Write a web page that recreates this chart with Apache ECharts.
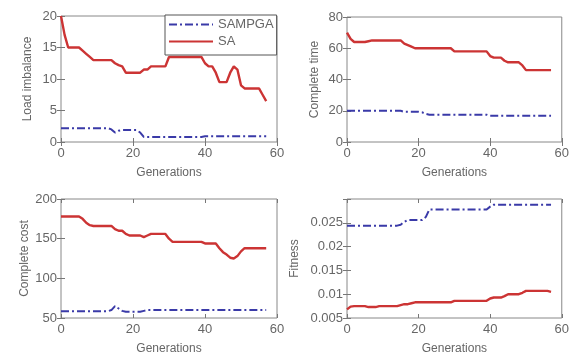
<!DOCTYPE html>
<html>
<head>
<meta charset="utf-8">
<script src="https://cdn.jsdelivr.net/npm/echarts@6/dist/echarts.min.js"></script>
<style>
  html, body { margin: 0; padding: 0; background: #fff; }
  #main { width: 572px; height: 356px; }
</style>
</head>
<body>
<div id="main"></div>
<script>
// generations 0..57
const gens = [0,1,2,3,4,5,6,7,8,9,10,11,12,13,14,15,16,17,18,19,20,21,22,23,24,25,26,27,28,29,
  30,31,32,33,34,35,36,37,38,39,40,41,42,43,44,45,46,47,48,49,50,51,52,53,54,55,56,57]

const loadSA = [20,17,15,15,15,15,14.5,14,13.5,13,
  13,13,13,13,13,12.5,12.2,12,11,11,
  11,11,11,11.5,11.5,12,12,12,12,12,
  13.5,13.5,13.5,13.5,13.5,13.5,13.5,13.5,13.5,13.5,
  12.5,12,12,11,9.5,9.5,9.5,11,12,11.5,
  9,8.5,8.5,8.5,8.5,8.5,7.5,6.5]
const loadSAMPGA = [2.2,2.2,2.2,2.2,2.2,2.2,2.2,2.2,2.2,2.2,
  2.2,2.2,2.2,2.2,2.0,1.5,1.8,1.9,1.9,1.9,
  1.9,1.9,1.5,0.8,0.8,0.8,0.8,0.8,0.8,0.8,
  0.8,0.8,0.8,0.8,0.8,0.8,0.8,0.8,0.8,0.8,
  0.9,0.9,0.9,0.9,0.9,0.9,0.9,0.9,0.9,0.9,
  0.9,0.9,0.9,0.9,0.9,0.9,0.9,0.9]

const timeSA = [70,66,64,64,64,64,64.5,65,65,65,
  65,65,65,65,65,65,63,62,61,60,
  60,60,60,60,60,60,60,60,60,60,
  58,58,58,58,58,58,58,58,58,58,
  55,54,54,54,52,51,51,51,51,49,
  46,46,46,46,46,46,46,46]
const timeSAMPGA = [20,20,20,20,20,20,20,20,20,20,
  20,20,20,20,20,20,19.3,19.3,19.3,19.3,
  19.3,19,18,17.5,17.5,17.5,17.5,17.5,17.5,17.5,
  17.5,17.5,17.5,17.5,17.5,17.5,17.5,17.5,17.5,17.5,
  16.8,16.8,16.8,16.8,16.8,16.8,16.8,16.8,16.8,16.8,
  16.8,16.8,16.8,16.8,16.8,16.8,16.8,16.8]

const costSA = [178,178,178,178,178,178,175,170,167,166,
  166,166,166,166,166,162,160,160,156,154,
  154,154,154,152,154,156,156,156,156,156,
  150,146,146,146,146,146,146,146,146,146,
  144,144,144,144,138,133,130,126,125,128,
  134,138,138,138,138,138,138,138]
const costSAMPGA = [58.5,58.5,58.5,58.5,58.5,58.5,58.5,58.5,58.5,58.5,
  58.5,58.5,58.5,58.5,60,65,62,59,58,58,
  58,58,58,59,60,60,60,60,60,60,
  60,60,60,60,60,60,60,60,60,60,
  60,60,60,60,60,60,60,60,60,60,
  60,60,60,60,60,60,60,60]

const fitSA = [0.0068,0.0074,0.0075,0.0075,0.0075,0.0075,0.0073,0.0073,0.0073,0.0075,
  0.0075,0.0075,0.0075,0.0075,0.0075,0.0077,0.0079,0.0079,0.0081,0.0083,
  0.0083,0.0083,0.0083,0.0083,0.0083,0.0083,0.0083,0.0083,0.0083,0.0083,
  0.0086,0.0086,0.0086,0.0086,0.0086,0.0086,0.0086,0.0086,0.0086,0.0086,
  0.0091,0.0093,0.0093,0.0093,0.0096,0.0100,0.0100,0.0100,0.0100,0.0103,
  0.0107,0.0107,0.0107,0.0107,0.0107,0.0107,0.0107,0.0105]
const fitSAMPGA = [0.0244,0.0244,0.0244,0.0244,0.0244,0.0244,0.0244,0.0244,0.0244,0.0244,
  0.0244,0.0244,0.0244,0.0244,0.0244,0.0246,0.0252,0.0256,0.0256,0.0256,
  0.0256,0.0256,0.0262,0.0278,0.0278,0.0278,0.0278,0.0278,0.0278,0.0278,
  0.0278,0.0278,0.0278,0.0278,0.0278,0.0278,0.0278,0.0278,0.0278,0.0278,
  0.0284,0.0288,0.0288,0.0288,0.0288,0.0288,0.0288,0.0288,0.0288,0.0288,
  0.0288,0.0288,0.0288,0.0288,0.0288,0.0288,0.0288,0.0288]

const xTicks = [0, 20, 40, 60]

const BLUE = '#3a3aa8'
const RED = '#cc3434'
const GRAY = '#666'
const FONT = 'Liberation Sans'

const chart = echarts.init(document.getElementById('main'))

// panels: grid box, y axis settings, data
const panels = [
  { grid: { left: 61, top: 16, width: 216, height: 126 }, name: 'Load imbalance', min: 0, max: 20, step: 5, gap: 27, sa: loadSA, ga: loadSAMPGA },
  { grid: { left: 347, top: 17, width: 217, height: 125 }, name: 'Complete time', min: 0, max: 80, step: 20, gap: 26, sa: timeSA, ga: timeSAMPGA },
  { grid: { left: 61, top: 199, width: 216, height: 124 }, name: 'Complete cost', min: 50, max: 200, step: 50, gap: 30, sa: costSA, ga: costSAMPGA },
  { grid: { left: 347, top: 199, width: 217, height: 123 }, name: 'Fitness', min: 0.005, max: 0.03, step: 0.005, gap: 46, sa: fitSA, ga: fitSAMPGA, hideTop: true }
]

const grid = [], xAxis = [], yAxis = [], series = []
const tick = { show: true, inside: true, length: 4, lineStyle: { color: '#777' } }

panels.forEach((p, i) => {
  grid.push(Object.assign({ show: true, borderColor: '#888', borderWidth: 1, backgroundColor: '#fff' }, p.grid))
  const xBase = {
    type: 'value', gridIndex: i, min: 0, max: 60, interval: 20,
    axisLine: { show: false }, splitLine: { show: false }, axisTick: tick
  }
  xAxis.push(Object.assign({}, xBase, {
    position: 'bottom',
    name: 'Generations', nameLocation: 'middle', nameGap: 25,
    nameTextStyle: { color: GRAY, fontSize: 12, fontFamily: FONT },
    axisLabel: { color: GRAY, fontSize: 13, fontFamily: FONT, margin: 5,
      formatter: v => xTicks.includes(v) ? String(v) : '' }
  }))
  xAxis.push(Object.assign({}, xBase, { position: 'top', axisLabel: { show: false } }))
  const yBase = {
    type: 'value', gridIndex: i, min: p.min, max: p.max, interval: p.step,
    axisLine: { show: false }, splitLine: { show: false }, axisTick: tick
  }
  yAxis.push(Object.assign({}, yBase, {
    position: 'left',
    name: p.name, nameLocation: 'middle', nameGap: p.gap,
    nameTextStyle: { color: GRAY, fontSize: 12, fontFamily: FONT },
    axisLabel: { color: GRAY, fontSize: 13, fontFamily: FONT, margin: 4,
      formatter: v => (p.hideTop && Math.abs(v - p.max) < 1e-9) ? '' : String(+v.toFixed(4)) }
  }))
  yAxis.push(Object.assign({}, yBase, { position: 'right', axisLabel: { show: false } }))

  series.push({
    name: 'SAMPGA', type: 'line', xAxisIndex: i * 2, yAxisIndex: i * 2,
    data: gens.map((g, k) => [g, p.ga[k]]),
    symbol: 'none', lineStyle: { color: BLUE, width: 2, type: [8, 3, 2, 3] },
    itemStyle: { color: BLUE }, silent: true
  })
  series.push({
    name: 'SA', type: 'line', xAxisIndex: i * 2, yAxisIndex: i * 2,
    data: gens.map((g, k) => [g, p.sa[k]]),
    symbol: 'none', lineStyle: { color: RED, width: 2.4 },
    itemStyle: { color: RED }, silent: true
  })
})

const option = {
  animation: false,
  backgroundColor: '#fff',
  grid, xAxis, yAxis, series,
  legend: {
    data: ['SAMPGA', 'SA'],
    orient: 'vertical',
    left: 165, top: 15,
    backgroundColor: '#fff',
    borderColor: '#555', borderWidth: 1,
    padding: [3, 3, 7, 3],
    itemWidth: 44, itemHeight: 14, itemGap: 4,
    itemStyle: { opacity: 0 },
    textStyle: { color: GRAY, fontSize: 13, fontFamily: FONT },
    selectedMode: false
  }
}
chart.setOption(option)
</script>
</body>
</html>
